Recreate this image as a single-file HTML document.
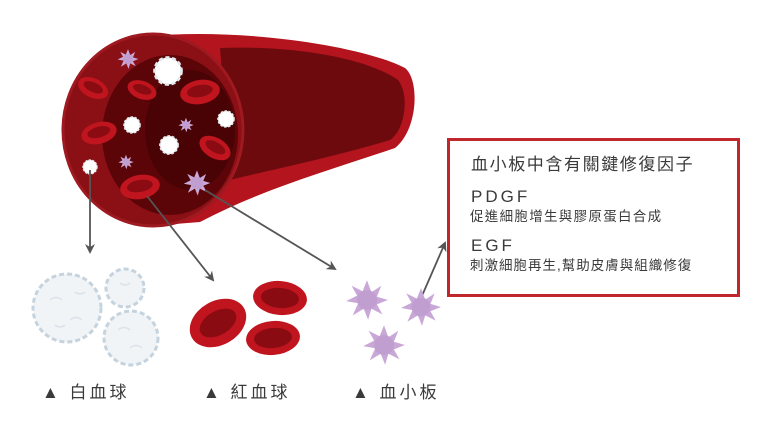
<!DOCTYPE html>
<html><head><meta charset="utf-8"><style>
html,body{margin:0;padding:0;background:#fff;width:768px;height:444px;overflow:hidden}
svg{display:block}
.t{font-family:"Liberation Sans","Noto Sans CJK TC",sans-serif;fill:#3a3a3a}
</style></head><body>
<svg width="768" height="444" viewBox="0 0 768 444">
<defs>
<marker id="ah" markerWidth="10" markerHeight="10" refX="8" refY="5" orient="auto" markerUnits="userSpaceOnUse">
<path d="M0,0 L10,5 L0,10 L3,5 Z" fill="#555"/></marker>
<g id="plt"><path d="M0,-18 L4,-7 L13,-13 L9,-3 L19,0 L9,4 L14,13 L4,8 L1,18 L-3,8 L-13,14 L-8,3 L-19,1 L-9,-4 L-14,-13 L-4,-8 Z" fill="#c9a8d8"/><circle r="9" fill="#c09fd0"/></g>
<g id="wbc"><circle r="10" fill="#fff" stroke="#e4eaf0" stroke-width="2" stroke-dasharray="3 2"/></g>
<g id="rbc"><ellipse rx="20" ry="12" fill="#c0141e"/><ellipse rx="13" ry="6" fill="#8a0b12" cy="-1"/></g>
</defs>
<path d="M150,36 C240,28 360,45 405,68 C420,80 418,130 395,148 C330,170 260,190 200,222 L150,226 Z" fill="#b3141d"/>
<path d="M220,48 C300,45 370,60 398,80 C410,95 405,130 390,140 C330,158 270,170 230,180 Z" fill="#6d0a0e"/>
<ellipse cx="153" cy="130" rx="90" ry="96" fill="#8a1016" stroke="#9e1a20" stroke-width="3"/>
<ellipse cx="170" cy="135" rx="68" ry="80" fill="#5c0508"/>
<ellipse cx="190" cy="130" rx="45" ry="60" fill="#4a0305"/>
<use href="#rbc" transform="translate(93,88) rotate(25) scale(0.8)"/>
<use href="#rbc" transform="translate(142,90) rotate(20) scale(0.75)"/>
<use href="#rbc" transform="translate(200,92) rotate(-10) scale(1)"/>
<use href="#rbc" transform="translate(99,133) rotate(-15) scale(0.9)"/>
<use href="#rbc" transform="translate(215,148) rotate(30) scale(0.85)"/>
<use href="#rbc" transform="translate(140,187) rotate(-10) scale(1)"/>
<use href="#wbc" transform="translate(168,71) scale(1.35)"/>
<use href="#wbc" transform="translate(132,125) scale(0.8)"/>
<use href="#wbc" transform="translate(169,145) scale(0.9)"/>
<use href="#wbc" transform="translate(226,119) scale(0.8)"/>
<use href="#wbc" transform="translate(90,167) scale(0.7)"/>
<use href="#plt" transform="translate(128,59) scale(0.55)"/>
<use href="#plt" transform="translate(186,125) scale(0.4)"/>
<use href="#plt" transform="translate(126,162) scale(0.4)"/>
<use href="#plt" transform="translate(197,183) scale(0.7)"/>
<g stroke="#555" stroke-width="1.8" fill="none">
<line x1="90" y1="170" x2="90" y2="252" marker-end="url(#ah)"/>
<line x1="147" y1="196" x2="213" y2="280" marker-end="url(#ah)"/>
<line x1="205" y1="190" x2="335" y2="269" marker-end="url(#ah)"/>
<line x1="418" y1="305" x2="445" y2="243" marker-end="url(#ah)"/>
</g>
<g fill="#f1f4f7" stroke="#c5d3de" stroke-width="3" stroke-dasharray="5 3">
<circle cx="67" cy="308" r="34"/><circle cx="125" cy="288" r="19"/><circle cx="131" cy="338" r="27"/>
</g>
<g fill="none" stroke="#dbe3ea" stroke-width="1.5">
<path d="M50,300 q6,-5 12,0 M70,320 q6,-5 12,0 M55,325 q5,4 10,0 M75,292 q5,4 10,0"/>
<path d="M118,330 q6,-5 12,0 M130,348 q6,-5 12,0 M120,283 q5,4 10,0"/>
</g>
<g transform="translate(218,323) rotate(-30)"><ellipse rx="30" ry="22" fill="#c0141e"/><ellipse rx="20" ry="12" fill="#8a0b12"/></g>
<g transform="translate(280,298) rotate(5)"><ellipse rx="27" ry="17" fill="#c0141e"/><ellipse rx="19" ry="10" fill="#8a0b12"/></g>
<g transform="translate(273,338) rotate(-5)"><ellipse rx="27" ry="17" fill="#c0141e"/><ellipse rx="19" ry="10" fill="#8a0b12"/></g>
<use href="#plt" transform="translate(367,300) scale(1.1)"/>
<use href="#plt" transform="translate(421,307) scale(1.05)"/>
<use href="#plt" transform="translate(384,345) scale(1.1)"/>
<text class="t" x="42" y="398" font-size="17" letter-spacing="3">▲ 白血球</text>
<text class="t" x="203" y="398" font-size="17" letter-spacing="3">▲ 紅血球</text>
<text class="t" x="352" y="398" font-size="17" letter-spacing="3">▲ 血小板</text>
<rect x="448.5" y="139.5" width="290" height="156" fill="#fff" stroke="#c0272d" stroke-width="3"/>
<text class="t" x="471" y="170" font-size="17" letter-spacing="1.6">血小板中含有關鍵修復因子</text>
<text class="t" x="471" y="202" font-size="17" letter-spacing="3">PDGF</text>
<text class="t" x="470" y="221" font-size="13.5" letter-spacing="1.3">促進細胞增生與膠原蛋白合成</text>
<text class="t" x="471" y="251" font-size="17" letter-spacing="3">EGF</text>
<text class="t" x="470" y="270" font-size="13.5" letter-spacing="1">刺激細胞再生,幫助皮膚與組織修復</text>
</svg>
</body></html>
